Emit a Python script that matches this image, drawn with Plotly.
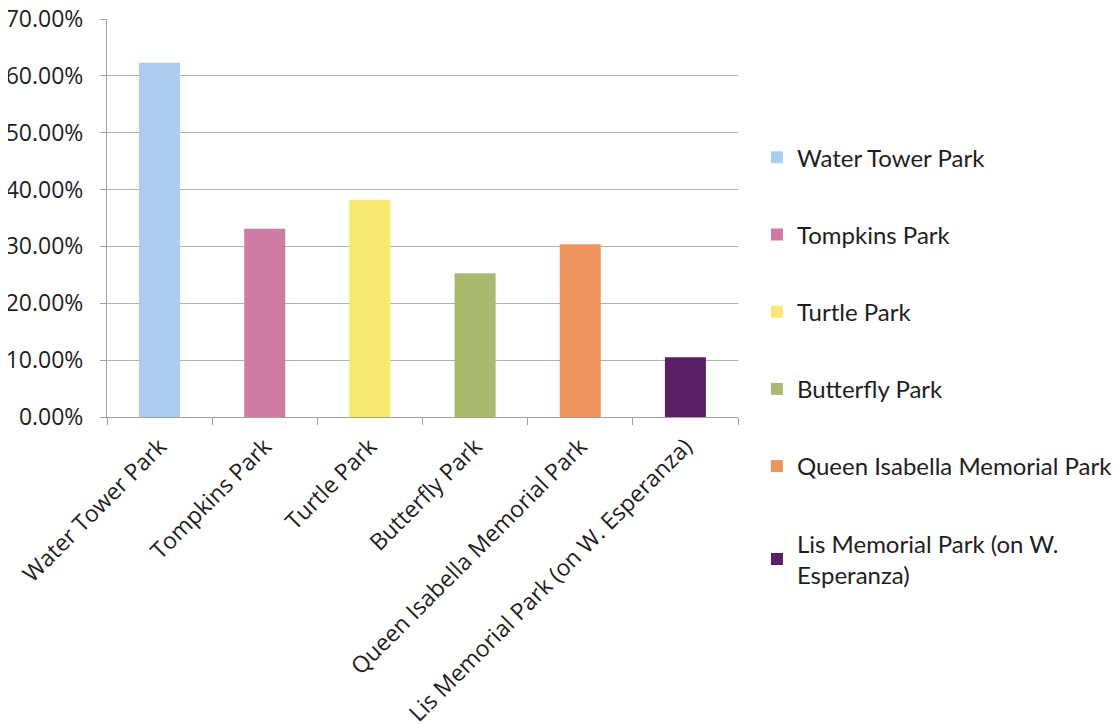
import plotly.graph_objects as go

categories = ["Water Tower Park", "Tompkins Park", "Turtle Park", "Butterfly Park",
              "Queen Isabella Memorial Park", "Lis Memorial Park (on W. Esperanza)"]
legend_names = ["Water Tower Park", "Tompkins Park", "Turtle Park", "Butterfly Park",
                "Queen Isabella Memorial Park", "Lis Memorial Park (on W.<br>Esperanza)"]
values = [0.623, 0.331, 0.382, 0.253, 0.304, 0.105]
colors = ["#abcdf0", "#cf7aa0", "#f9e873", "#a9ba6f", "#ee955e", "#5b1f66"]
y_ticks = [0, 0.1, 0.2, 0.3, 0.4, 0.5, 0.6, 0.7]

FONT = "Open Sans, Liberation Sans, sans-serif"
LEG_FONT = "Lato, Open Sans, sans-serif"
TXT = "#1e1e1e"

fig = go.Figure()
for i, (cat, name, v, c) in enumerate(zip(categories, legend_names, values, colors)):
    fig.add_trace(go.Bar(
        x=[cat], y=[v], name=name, marker=dict(color=c, line=dict(width=0)),
        width=0.39, legendgroup=f"g{i}", showlegend=True,
    ))

fig.update_layout(
    width=1112, height=716,
    barmode="overlay",
    plot_bgcolor="white", paper_bgcolor="white",
    margin=dict(l=99, r=382, t=11, b=307, autoexpand=False),
    font=dict(family=FONT, size=23, color=TXT),
    legend=dict(
        x=1.030, xanchor="left", y=0.708, yanchor="top",
        font=dict(family=LEG_FONT, size=24, color=TXT),
        tracegroupgap=43, bgcolor="rgba(0,0,0,0)", maxheight=650,
    ),
    xaxis=dict(
        type="category", categoryorder="array", categoryarray=categories,
        tickangle=-45, showline=True, linecolor="#a0a0a0", linewidth=1,
        ticks="outside", ticklen=7, tickcolor="#a0a0a0", tickson="boundaries",
        showgrid=False, automargin=False, ticklabelstandoff=6,
        ticklabeloverflow="allow",
        tickfont=dict(family=FONT, size=23, color=TXT),
    ),
    yaxis=dict(
        range=[0, 0.7], tickvals=y_ticks, tickformat=".2%",
        showline=True, linecolor="#a0a0a0", linewidth=1,
        ticks="outside", ticklen=6, tickcolor="#a0a0a0",
        showgrid=True, gridcolor="#b0b0b0", gridwidth=1, zeroline=False,
        automargin=False, ticklabelstandoff=12, ticklabeloverflow="allow",
        tickfont=dict(family=FONT, size=23, color=TXT),
    ),
)

fig.write_html("out.html")
